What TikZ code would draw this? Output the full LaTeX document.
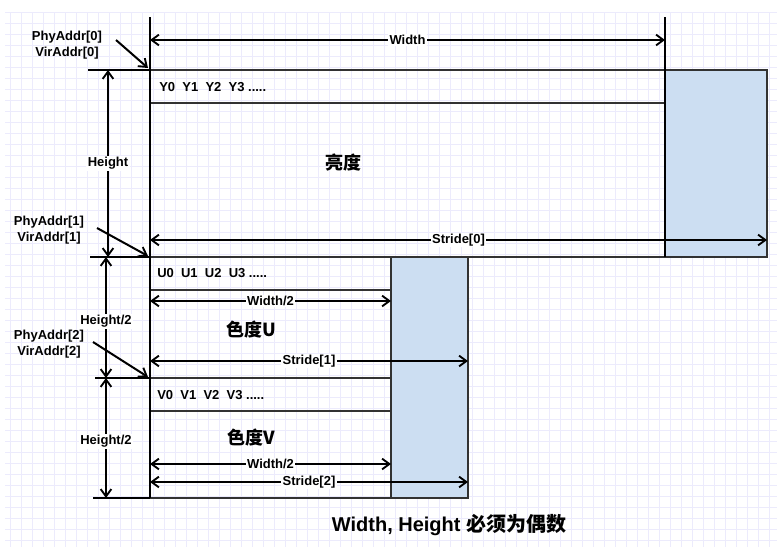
\documentclass[tikz,border=0pt]{standalone}
\usepackage{fontspec}
\setmainfont{Liberation Sans}
\newfontfamily\cjkfont{Noto Sans CJK SC}
\usetikzlibrary{arrows.meta}

\definecolor{gridline}{RGB}{236,235,252}
\definecolor{planeblue}{RGB}{204,222,242}
\definecolor{boxline}{RGB}{50,50,50}

\tikzset{
  barb/.tip={Straight Barb[length=5.5pt,width=8pt,line width=1.4pt]},
  dim/.style={barb-barb,line width=1.5pt},
  ptr/.style={-barb,line width=1.5pt},
  lbl/.style={font=\bfseries\fontsize{9.75pt}{11.5pt}\selectfont,fill=white,inner sep=1pt},
  addr/.style={font=\bfseries\fontsize{9.75pt}{11.5pt}\selectfont,align=center,inner sep=0pt},
  rowtext/.style={font=\bfseries\fontsize{9.75pt}{11.5pt}\selectfont,anchor=west,inner sep=0pt},
  plane/.style={font=\cjkfont\bfseries\fontsize{13.5pt}{15pt}\selectfont,inner sep=0pt},
  box/.style={boxline,line width=1.5pt},
}

\begin{document}
\begin{tikzpicture}[x=0.75pt,y=-0.75pt,line cap=butt]
  \useasboundingbox (0,0) rectangle (777,547);
  % ---------------- background grid ----------------
  \foreach \gx in {10,21,...,769} \draw[gridline,line width=0.75pt] (\gx,12) -- (\gx,547);
  \foreach \gy in {12,23,...,540} \draw[gridline,line width=0.75pt] (5,\gy) -- (777,\gy);

  % ---------------- Y plane ----------------
  \draw[box,fill=planeblue] (665,70) rectangle (767,257);
  \draw[box] (150,70) rectangle (665,257);
  \draw[box] (150,103) -- (665,103);
  \node[rowtext] (yrow) at (159,87) {Y0\ \ Y1\ \ Y2\ \ Y3 .....};
  \node[plane] (luma) at (343,163) {亮度};

  % ---------------- U / V planes ----------------
  \draw[box,fill=planeblue] (391,257) rectangle (468,498);
  \draw[box] (150,257) rectangle (391,378);
  \draw[box] (150,378) rectangle (391,498);
  \draw[box] (150,290) -- (391,290);
  \draw[box] (150,411) -- (391,411);
  \node[rowtext] (urow) at (157,273) {U0\ \ U1\ \ U2\ \ U3 .....};
  \node[rowtext] (vrow) at (157,395) {V0\ \ V1\ \ V2\ \ V3 .....};
  \node[plane] (chromu) at (251,330) {色度U};
  \node[plane] (chromv) at (251,438) {色度V};

  % ---------------- extension lines ----------------
  \draw[line width=2pt] (150,17) -- (150,498);
  \draw[line width=1.8pt] (665,17) -- (665,257);
  \foreach \ya/\xa in {70/88,257/90,378/95,498/93}
    \draw[line width=1.8pt] (\xa,\ya) -- (150,\ya);

  % ---------------- widths and strides ----------------
  \foreach \nm/\ya/\xa/\lab in {w0/40/665/Width,s0/240/767/Stride[0],w1/301/391/Width\slash 2,
      s1/361/468/Stride[1],w2/464/391/Width\slash 2,s2/482/468/Stride[2]}
    {\coordinate (\nm a) at (150,\ya);
     \coordinate (\nm b) at (\xa,\ya);
     \draw[dim] (\nm a) -- node[lbl] {\lab} (\nm b);}

  % ---------------- heights ----------------
  \coordinate (h0a) at (108,70);  \coordinate (h0b) at (108,257);
  \coordinate (h1a) at (106,257); \coordinate (h1b) at (106,378);
  \coordinate (h2a) at (106,378); \coordinate (h2b) at (106,498);
  \draw[dim] (h0a) -- node[lbl] {Height} (h0b);
  \draw[dim] (h1a) -- node[lbl,pos=0.53] {Height/2} (h1b);
  \draw[dim] (h2a) -- node[lbl,pos=0.53] {Height/2} (h2b);

  % ---------------- plane start addresses ----------------
  \node[addr] (addr0) at (67,45) {PhyAddr[0]\\VirAddr[0]};
  \node[addr] (addr1) at (49,230) {PhyAddr[1]\\VirAddr[1]};
  \node[addr] (addr2) at (49,344) {PhyAddr[2]\\VirAddr[2]};
  \coordinate (p0a) at (116,40); \coordinate (p0b) at (148,68);
  \coordinate (p1a) at (97,228); \coordinate (p1b) at (148,256);
  \coordinate (p2a) at (93,342); \coordinate (p2b) at (148,377);
  \draw[ptr] (p0a) -- (p0b);
  \draw[ptr] (p1a) -- (p1b);
  \draw[ptr] (p2a) -- (p2b);

  \node[font=\bfseries\fontsize{15pt}{17pt}\selectfont] (note) at (449,525)
    {Width, Height {\cjkfont 必须为偶数}};
\end{tikzpicture}
\end{document}
